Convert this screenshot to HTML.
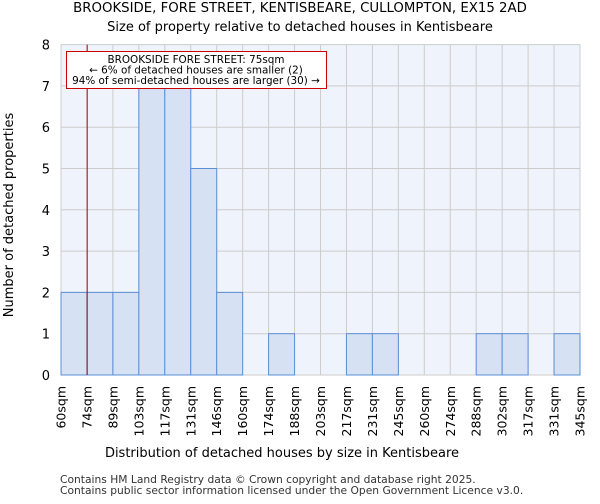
<!DOCTYPE html>
<html><head><meta charset="utf-8"><style>
body{margin:0;background:#fff;font-family:"DejaVu Sans","Liberation Sans",sans-serif}
svg text{font-family:"DejaVu Sans","Liberation Sans",sans-serif}
</style></head><body>
<svg id="c" width="600" height="500" xmlns="http://www.w3.org/2000/svg">
<text x="300" y="12" text-anchor="middle" font-size="13.3">BROOKSIDE, FORE STREET, KENTISBEARE, CULLOMPTON, EX15 2AD</text>
<text x="300" y="31" text-anchor="middle" font-size="13">Size of property relative to detached houses in Kentisbeare</text>
<g id="plot"></g>
<text x="282" y="457" text-anchor="middle" font-size="13">Distribution of detached houses by size in Kentisbeare</text>
<text transform="translate(13,215) rotate(-90)" text-anchor="middle" font-size="13">Number of detached properties</text>
<text x="60" y="483" font-size="10.7" fill="#333">Contains HM Land Registry data © Crown copyright and database right 2025.</text>
<text x="60" y="494" font-size="10.7" fill="#333">Contains public sector information licensed under the Open Government Licence v3.0.</text>
</svg>
<script>
const edgeLabels=["60sqm","74sqm","89sqm","103sqm","117sqm","131sqm","146sqm","160sqm","174sqm","188sqm","203sqm","217sqm","231sqm","245sqm","260sqm","274sqm","288sqm","302sqm","317sqm","331sqm","345sqm"];
const edgeValues=[60,74,89,103,117,131,146,160,174,188,203,217,231,245,260,274,288,302,317,331,345];
const counts=[2,2,2,7,7,5,2,0,1,0,0,1,1,0,0,0,1,1,0,1];
const yTicks=[0,1,2,3,4,5,6,7,8];
const markerValue=75;
const annotationLines=["BROOKSIDE FORE STREET: 75sqm","← 6% of detached houses are smaller (2)","94% of semi-detached houses are larger (30) →"];

const NS="http://www.w3.org/2000/svg";
const g=document.getElementById('plot');
const X0=61,X1=580,Y0=375,Y1=44.6,yMax=8;
const nb=counts.length;
const xi=i=>X0+(X1-X0)*i/nb;
const y=v=>Y0-(Y0-Y1)*v/yMax;
function xv(v){for(let i=0;i<edgeValues.length-1;i++){if(v<=edgeValues[i+1]){return xi(i+(v-edgeValues[i])/(edgeValues[i+1]-edgeValues[i]));}}return X1;}
function mk(t,a){const e=document.createElementNS(NS,t);for(const k in a)e.setAttribute(k,a[k]);g.appendChild(e);return e;}
const bg=mk('rect',{x:X0,y:Y1,width:X1-X0,height:Y0-Y1,fill:'#eff3fb'});


yTicks.forEach(t=>{
 const l=mk('line',{x1:X0,x2:X1,y1:y(t),y2:y(t),stroke:'#cccccc','stroke-width':1});
 
 
 const tx=mk('text',{x:50,y:y(t)+5,'text-anchor':'end','font-size':13});
 tx.textContent=t;
 
 
});
edgeLabels.forEach((s,i)=>{
 const l=mk('line',{x1:xi(i),x2:xi(i),y1:Y1,y2:Y0,stroke:'#cccccc','stroke-width':1});
 
 
 const tx=mk('text',{transform:`translate(${xi(i)+4.5},386) rotate(-90)`,'text-anchor':'end','font-size':12.5});
 tx.textContent=s;
 
 
});
counts.forEach((c,i)=>{
 if(c<=0)return;
 const r=mk('rect',{x:xi(i),y:y(c),width:xi(i+1)-xi(i),height:Y0-y(c),fill:'#d6e1f3',stroke:'#5b8fd6','stroke-width':1});
 
 
});
const mx=xv(markerValue)-1.5;
const ml=mk('line',{x1:mx,x2:mx,y1:Y1,y2:Y0,stroke:'#aa0000','stroke-width':1});


const box=mk('rect',{x:66.5,y:51.5,width:260,height:37,fill:'#fff',stroke:'#cc0000','stroke-width':1});


annotationLines.forEach((s,i)=>{
 const t=mk('text',{x:196,y:63+i*10.5,'text-anchor':'middle','font-size':10.4});
 t.textContent=s;
 
 
});
</script>
</body></html>
